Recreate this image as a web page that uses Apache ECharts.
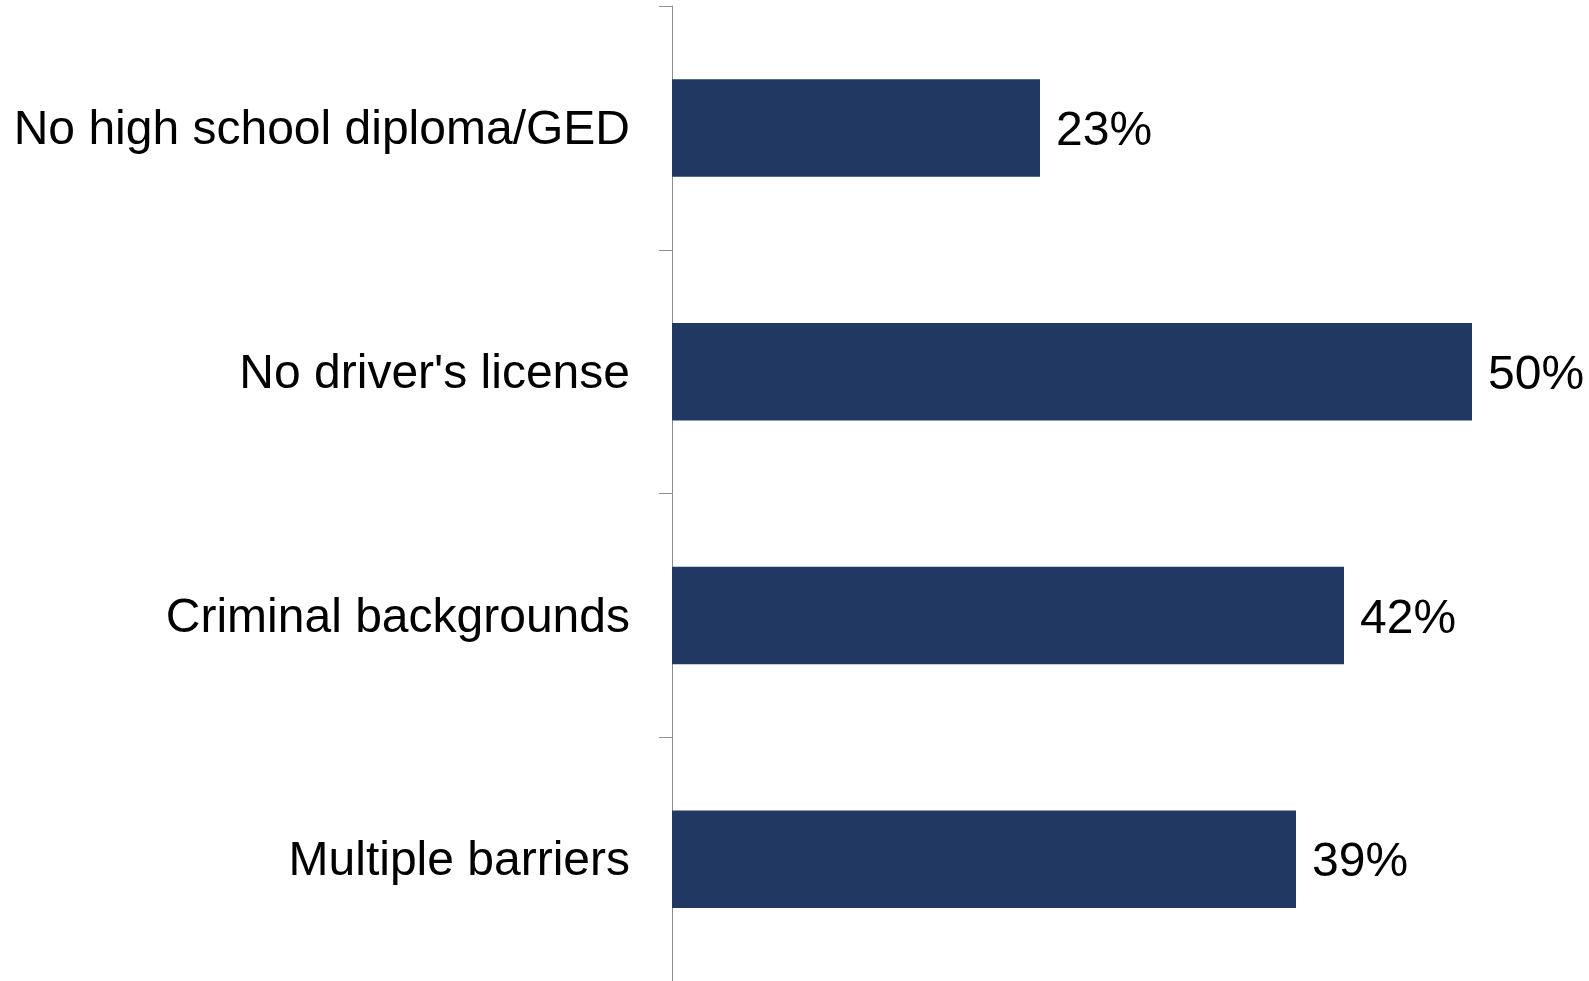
<!DOCTYPE html>
<html>
<head>
<meta charset="utf-8">
<style>
  html, body { margin: 0; padding: 0; background: #ffffff; }
  #chart { width: 1589px; height: 981px; }
</style>
<script src="https://cdn.jsdelivr.net/npm/echarts@6/dist/echarts.min.js"></script>
</head>
<body>
<div id="chart"></div>
<script>
// Share of job seekers facing each employment barrier (percent)
const categories = [
  'No high school diploma/GED',
  "No driver's license",
  'Criminal backgrounds',
  'Multiple barriers'
];
const shares = [23, 50, 42, 39];

const chart = echarts.init(document.getElementById('chart'), null, { renderer: 'canvas' });

const labelFont = '"Liberation Sans", Arial, sans-serif';

chart.setOption({
  animation: false,
  backgroundColor: '#ffffff',
  grid: { left: 672, width: 800, top: 6, height: 980, containLabel: false },
  xAxis: {
    type: 'value',
    min: 0,
    max: 50,
    show: false
  },
  yAxis: {
    type: 'category',
    data: categories,
    inverse: true,
    axisLine: { show: true, lineStyle: { color: '#8c8c8c', width: 1 } },
    axisTick: { show: true, length: 13, lineStyle: { color: '#8c8c8c', width: 1 } },
    axisLabel: {
      margin: 42,
      formatter: '{t|{value}}',
      rich: {
        t: {
          color: '#000000',
          fontFamily: labelFont,
          fontSize: 48,
          padding: [6, 0, 0, 0]
        }
      }
    },
    splitLine: { show: false }
  },
  series: [{
    type: 'bar',
    data: shares,
    barCategoryGap: '60%',
    itemStyle: { color: '#213863' },
    label: {
      show: true,
      position: 'right',
      distance: 16,
      offset: [0, 4],
      formatter: '{c}%',
      color: '#000000',
      fontFamily: labelFont,
      fontSize: 48
    }
  }]
});
</script>
</body>
</html>
